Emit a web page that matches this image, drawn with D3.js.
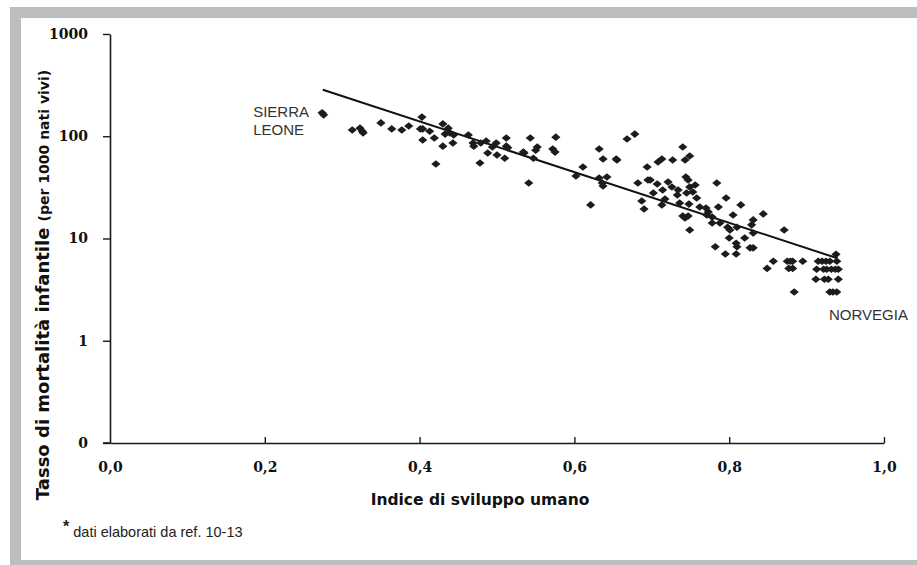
<!DOCTYPE html>
<html>
<head>
<meta charset="utf-8">
<script src="https://cdn.jsdelivr.net/npm/d3@7"></script>
<style>
  html, body { margin: 0; padding: 0; background: #fff; }
  svg { display: block; }
</style>
</head>
<body>
<svg id="chart" width="917" height="565"></svg>
<script>
// ---------------- data ----------------
const hdi = [
  0.274, 0.276, 0.313, 0.323, 0.326, 0.327, 0.350, 0.364, 0.377, 0.386,
  0.403, 0.401, 0.404, 0.413, 0.404, 0.419, 0.430, 0.430, 0.437, 0.433,
  0.439, 0.443, 0.444, 0.421, 0.463, 0.469, 0.470, 0.478, 0.479, 0.486,
  0.488, 0.494, 0.499, 0.500, 0.512, 0.512, 0.514, 0.510, 0.534, 0.535,
  0.543, 0.541, 0.547, 0.552, 0.550, 0.572, 0.575, 0.576, 0.602, 0.611,
  0.621, 0.632, 0.632, 0.637, 0.636, 0.637, 0.642, 0.654, 0.655, 0.668,
  0.678, 0.682, 0.694, 0.695, 0.687, 0.690,
  0.740, 0.749, 0.743, 0.727, 0.708, 0.713, 0.698, 0.707, 0.702, 0.714,
  0.713, 0.717, 0.721, 0.726, 0.733, 0.736, 0.734, 0.744, 0.747, 0.749,
  0.756, 0.753, 0.758, 0.745, 0.748, 0.740, 0.743, 0.747, 0.749, 0.762,
  0.770, 0.773, 0.771, 0.778, 0.784, 0.778, 0.786, 0.788, 0.796, 0.805,
  0.798, 0.801, 0.810, 0.815, 0.820, 0.800, 0.782, 0.795, 0.809, 0.810,
  0.809,
  0.844, 0.831, 0.829, 0.831, 0.871, 0.831, 0.827, 0.857, 0.849, 0.875,
  0.879, 0.882, 0.895, 0.877, 0.882, 0.884, 0.915, 0.920, 0.925, 0.930,
  0.939, 0.938, 0.913, 0.922, 0.926, 0.932, 0.937, 0.941, 0.912, 0.923,
  0.928, 0.941, 0.930, 0.934, 0.939
];
const mortality = [
  170, 162, 115, 120, 112, 108, 135, 118, 115, 126,
  154, 118, 118, 112, 92, 96, 132, 80, 120, 105,
  108, 86, 103, 53.5, 103, 86, 80, 54.7, 86, 90,
  68.5, 78.5, 86, 65.6, 96, 80, 77, 61, 70, 68.5,
  96, 34.9, 61, 78.5, 73, 75, 70, 98, 40.8, 50,
  21.3, 75, 39, 60, 34.9, 32.6, 40, 60, 58.6, 94,
  105, 34.9, 50, 37.3, 23.3, 19.4,
  78.5, 64, 58.6, 58.6, 56, 60, 37.3, 34.1, 27.9, 29.8,
  21.3, 24.3, 35.7, 31.9, 26.6, 22.2, 29.8, 40, 37.3, 31.9,
  33.4, 28.5, 24.9, 27.9, 21.7, 16.6, 15.9, 16.6, 12.1, 20.3,
  19.9, 18.2, 17.0, 16.2, 34.9, 14.2, 20.3, 14.2, 24.9, 17.0,
  12.9, 12.1, 12.9, 21.3, 10.1, 10.1, 8.3, 7.05, 9.0, 8.3,
  7.05,
  17.4, 15.2, 13.6, 11.3, 12.1, 8.1, 8.1, 6, 5.1, 6,
  6, 6, 6, 5.1, 5.1, 3, 6, 6, 6, 6,
  6, 7, 5, 5, 5, 5, 5, 5, 4, 4,
  4, 4, 3, 3, 3
];
const trendX = [0.275, 0.940];
const trendY = [285, 6.4];
const xTicks = [0, 0.2, 0.4, 0.6, 0.8, 1.0];
const xTickLabels = ["0,0", "0,2", "0,4", "0,6", "0,8", "1,0"];
const yTicks = [0.1, 1, 10, 100, 1000];
const yTickLabels = ["0", "1", "10", "100", "1000"];
const countryLabels = [
  { name: ["SIERRA", "LEONE"], x: 0.185, y: 154 },
  { name: ["NORVEGIA"], x: 0.929, y: 1.6 }
];

// ---------------- drawing ----------------
const svg = d3.select("#chart");

// gray frame
const frame = "#bdbec1";
svg.append("rect").attr("x", 10).attr("y", 7).attr("width", 907).attr("height", 11).attr("fill", frame);
svg.append("rect").attr("x", 10).attr("y", 7).attr("width", 11).attr("height", 558).attr("fill", frame);
svg.append("rect").attr("x", 10).attr("y", 560).attr("width", 907).attr("height", 5).attr("fill", frame);

const x = d3.scaleLinear().domain([0, 1]).range([110, 884]);
const y = d3.scaleLog().domain([0.1, 1000]).range([443, 34]);

const axisColor = "#1a1a1a";

// y axis
const yAxis = svg.append("g").attr("transform", "translate(110,0)")
  .call(d3.axisLeft(y).tickValues(yTicks).tickFormat((d, i) => yTickLabels[i]).tickSize(7).tickSizeOuter(0));
yAxis.select(".domain").attr("stroke", axisColor).attr("stroke-width", 1.6);
yAxis.selectAll(".tick line").attr("stroke", axisColor).attr("stroke-width", 1.4);
yAxis.selectAll(".tick text")
  .attr("x", -22)
  .attr("fill", "#111")
  .style("font-family", "'DejaVu Serif', serif")
  .style("font-weight", "bold")
  .style("font-size", "14px");

// x axis (ticks point up)
const xAxis = svg.append("g").attr("transform", "translate(0,443)")
  .call(d3.axisBottom(x).tickValues(xTicks).tickFormat((d, i) => xTickLabels[i]).tickSize(-6).tickSizeOuter(0));
xAxis.select(".domain").attr("stroke", axisColor).attr("stroke-width", 1.6);
xAxis.selectAll(".tick line").attr("stroke", axisColor).attr("stroke-width", 1.4);
xAxis.selectAll(".tick").filter(d => d === 0).select("line").remove();
xAxis.selectAll(".tick text")
  .attr("y", 19)
  .attr("fill", "#111")
  .style("font-family", "'DejaVu Serif', serif")
  .style("font-weight", "bold")
  .style("font-size", "14px");
svg.append("line").attr("x1", 103).attr("x2", 110).attr("y1", 443).attr("y2", 443)
  .attr("stroke", axisColor).attr("stroke-width", 1.6);

// trend line
const line = d3.line().x(d => x(d[0])).y(d => y(d[1]));
svg.append("path")
  .datum(trendX.map((v, i) => [v, trendY[i]]))
  .attr("d", line)
  .attr("fill", "none")
  .attr("stroke", "#111")
  .attr("stroke-width", 2);

// points (diamonds)
const diamond = "M0,-3.8L4.6,0L0,3.8L-4.6,0Z";
svg.append("g").selectAll("path")
  .data(hdi.map((v, i) => [v, mortality[i]]))
  .join("path")
  .attr("d", diamond)
  .attr("transform", d => `translate(${x(d[0])},${y(d[1])})`)
  .attr("fill", "#1c1c1c");

// country labels
const lbl = svg.append("g")
  .style("font-family", "'Liberation Sans', Arial, sans-serif")
  .style("font-size", "15px")
  .attr("fill", "#333");
countryLabels.forEach(c => {
  c.name.forEach((t, j) => {
    lbl.append("text")
      .attr("x", x(c.x))
      .attr("y", y(c.y) + j * 18)
      .text(t);
  });
});

// axis titles
svg.append("text")
  .attr("x", 480).attr("y", 505)
  .attr("text-anchor", "middle")
  .attr("fill", "#111")
  .style("font-family", "'DejaVu Sans', sans-serif")
  .style("font-weight", "bold")
  .style("font-size", "15.5px")
  .text("Indice di sviluppo umano");

const yt = svg.append("text")
  .attr("transform", "translate(49,285) rotate(-90)")
  .attr("text-anchor", "middle")
  .attr("fill", "#111")
  .style("font-family", "'DejaVu Sans', sans-serif")
  .style("font-weight", "bold");
yt.append("tspan").style("font-size", "18px").text("Tasso di mortalità infantile ");
yt.append("tspan").style("font-size", "14px").text("(per 1000 nati vivi)");

// footnote
const fn = svg.append("text")
  .attr("x", 63).attr("y", 537)
  .attr("fill", "#222")
  .style("font-family", "'Liberation Sans', Arial, sans-serif")
  .style("font-size", "14.5px");
fn.append("tspan").attr("dy", -5).style("font-weight", "bold").style("font-size", "16px").text("*");
fn.append("tspan").attr("dy", 5).text(" dati elaborati da ref. 10-13");
</script>
</body>
</html>
